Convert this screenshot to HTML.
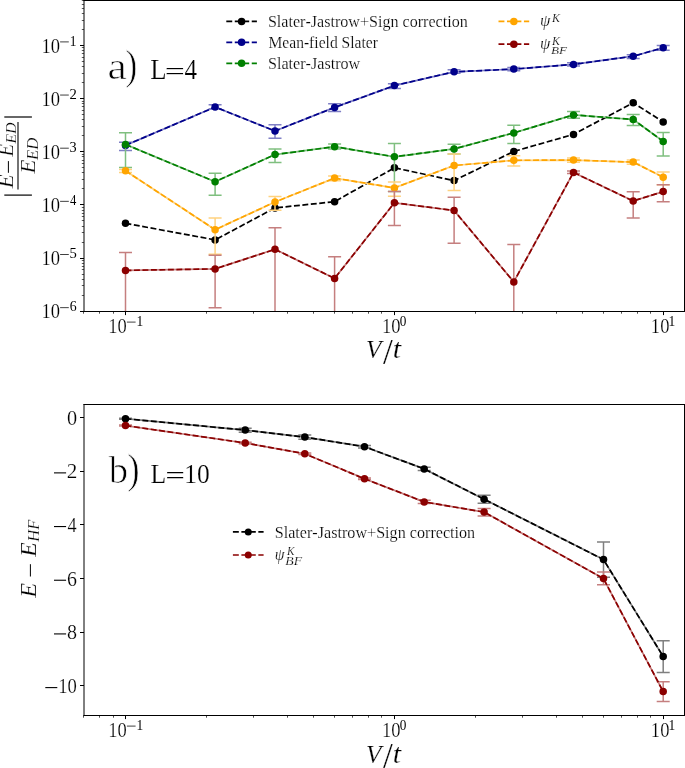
<!DOCTYPE html><html><head><meta charset="utf-8"><style>html,body{margin:0;padding:0;background:#fff;overflow:hidden}svg{display:block;will-change:transform}svg text{font-family:"Liberation Serif",serif;font-kerning:none;font-variant-ligatures:none;}</style></head><body><svg width="685" height="768" viewBox="0 0 685 768">
<rect width="685" height="768" fill="#fff"/>
<defs><clipPath id="ca"><rect x="84" y="0.5" width="600.5" height="311"/></clipPath><clipPath id="cb"><rect x="84" y="404.5" width="600.5" height="311"/></clipPath></defs>
<g clip-path="url(#ca)">
<polyline points="125.5,223.3 215.1,239.9 275,207.9 334.6,201.7 394.4,167.8 454.1,180.6 513.8,151.4 573.5,134.4 633.2,102.8 663.2,121.9" fill="none" stroke="#000000" stroke-width="1.7" stroke-dasharray="5.92 2.56"/>
<circle cx="125.5" cy="223.3" r="3.75" fill="#000000"/>
<circle cx="215.1" cy="239.9" r="3.75" fill="#000000"/>
<circle cx="275" cy="207.9" r="3.75" fill="#000000"/>
<circle cx="334.6" cy="201.7" r="3.75" fill="#000000"/>
<circle cx="394.4" cy="167.8" r="3.75" fill="#000000"/>
<circle cx="454.1" cy="180.6" r="3.75" fill="#000000"/>
<circle cx="513.8" cy="151.4" r="3.75" fill="#000000"/>
<circle cx="573.5" cy="134.4" r="3.75" fill="#000000"/>
<circle cx="633.2" cy="102.8" r="3.75" fill="#000000"/>
<circle cx="663.2" cy="121.9" r="3.75" fill="#000000"/>
</g>
<g clip-path="url(#ca)">
<polyline points="125.5,145.4 215.1,107 275,131 334.6,107.4 394.4,85.6 454.1,71.8 513.8,69.1 573.5,64.4 633.2,56.2 663.2,47.8" fill="none" stroke="#7f7fc5" stroke-width="1.7" stroke-linejoin="round"/>
<line x1="125.5" y1="142.2" x2="125.5" y2="150.4" stroke="#7f7fc5" stroke-width="1.5"/>
<line x1="119" y1="142.2" x2="132" y2="142.2" stroke="#7f7fc5" stroke-width="1.5"/>
<line x1="119" y1="150.4" x2="132" y2="150.4" stroke="#7f7fc5" stroke-width="1.5"/>
<line x1="215.1" y1="104.8" x2="215.1" y2="108.7" stroke="#7f7fc5" stroke-width="1.5"/>
<line x1="208.6" y1="104.8" x2="221.6" y2="104.8" stroke="#7f7fc5" stroke-width="1.5"/>
<line x1="208.6" y1="108.7" x2="221.6" y2="108.7" stroke="#7f7fc5" stroke-width="1.5"/>
<line x1="275" y1="124.8" x2="275" y2="138.2" stroke="#7f7fc5" stroke-width="1.5"/>
<line x1="268.5" y1="124.8" x2="281.5" y2="124.8" stroke="#7f7fc5" stroke-width="1.5"/>
<line x1="268.5" y1="138.2" x2="281.5" y2="138.2" stroke="#7f7fc5" stroke-width="1.5"/>
<line x1="334.6" y1="103.7" x2="334.6" y2="111.5" stroke="#7f7fc5" stroke-width="1.5"/>
<line x1="328.1" y1="103.7" x2="341.1" y2="103.7" stroke="#7f7fc5" stroke-width="1.5"/>
<line x1="328.1" y1="111.5" x2="341.1" y2="111.5" stroke="#7f7fc5" stroke-width="1.5"/>
<line x1="394.4" y1="83.75" x2="394.4" y2="88.4" stroke="#7f7fc5" stroke-width="1.5"/>
<line x1="387.9" y1="83.75" x2="400.9" y2="83.75" stroke="#7f7fc5" stroke-width="1.5"/>
<line x1="387.9" y1="88.4" x2="400.9" y2="88.4" stroke="#7f7fc5" stroke-width="1.5"/>
<line x1="454.1" y1="69.8" x2="454.1" y2="73.2" stroke="#7f7fc5" stroke-width="1.5"/>
<line x1="447.6" y1="69.8" x2="460.6" y2="69.8" stroke="#7f7fc5" stroke-width="1.5"/>
<line x1="447.6" y1="73.2" x2="460.6" y2="73.2" stroke="#7f7fc5" stroke-width="1.5"/>
<line x1="513.8" y1="67.5" x2="513.8" y2="70.7" stroke="#7f7fc5" stroke-width="1.5"/>
<line x1="507.3" y1="67.5" x2="520.3" y2="67.5" stroke="#7f7fc5" stroke-width="1.5"/>
<line x1="507.3" y1="70.7" x2="520.3" y2="70.7" stroke="#7f7fc5" stroke-width="1.5"/>
<line x1="573.5" y1="62.8" x2="573.5" y2="66" stroke="#7f7fc5" stroke-width="1.5"/>
<line x1="567" y1="62.8" x2="580" y2="62.8" stroke="#7f7fc5" stroke-width="1.5"/>
<line x1="567" y1="66" x2="580" y2="66" stroke="#7f7fc5" stroke-width="1.5"/>
<line x1="633.2" y1="54.7" x2="633.2" y2="58.4" stroke="#7f7fc5" stroke-width="1.5"/>
<line x1="626.7" y1="54.7" x2="639.7" y2="54.7" stroke="#7f7fc5" stroke-width="1.5"/>
<line x1="626.7" y1="58.4" x2="639.7" y2="58.4" stroke="#7f7fc5" stroke-width="1.5"/>
<line x1="663.2" y1="45.4" x2="663.2" y2="50.2" stroke="#7f7fc5" stroke-width="1.5"/>
<line x1="656.7" y1="45.4" x2="669.7" y2="45.4" stroke="#7f7fc5" stroke-width="1.5"/>
<line x1="656.7" y1="50.2" x2="669.7" y2="50.2" stroke="#7f7fc5" stroke-width="1.5"/>
<polyline points="125.5,145.4 215.1,107 275,131 334.6,107.4 394.4,85.6 454.1,71.8 513.8,69.1 573.5,64.4 633.2,56.2 663.2,47.8" fill="none" stroke="#00008b" stroke-width="1.7" stroke-dasharray="5.92 2.56"/>
<circle cx="125.5" cy="145.4" r="3.75" fill="#00008b"/>
<circle cx="215.1" cy="107" r="3.75" fill="#00008b"/>
<circle cx="275" cy="131" r="3.75" fill="#00008b"/>
<circle cx="334.6" cy="107.4" r="3.75" fill="#00008b"/>
<circle cx="394.4" cy="85.6" r="3.75" fill="#00008b"/>
<circle cx="454.1" cy="71.8" r="3.75" fill="#00008b"/>
<circle cx="513.8" cy="69.1" r="3.75" fill="#00008b"/>
<circle cx="573.5" cy="64.4" r="3.75" fill="#00008b"/>
<circle cx="633.2" cy="56.2" r="3.75" fill="#00008b"/>
<circle cx="663.2" cy="47.8" r="3.75" fill="#00008b"/>
</g>
<g clip-path="url(#ca)">
<polyline points="125.5,144.4 215.1,181.7 275,154.6 334.6,146.7 394.4,156.8 454.1,148.9 513.8,132.9 573.5,114.9 633.2,119.5 663.2,141.4" fill="none" stroke="#7fbf7f" stroke-width="1.7" stroke-linejoin="round"/>
<line x1="125.5" y1="132.7" x2="125.5" y2="167.6" stroke="#7fbf7f" stroke-width="1.5"/>
<line x1="119" y1="132.7" x2="132" y2="132.7" stroke="#7fbf7f" stroke-width="1.5"/>
<line x1="119" y1="167.6" x2="132" y2="167.6" stroke="#7fbf7f" stroke-width="1.5"/>
<line x1="215.1" y1="173.2" x2="215.1" y2="195.3" stroke="#7fbf7f" stroke-width="1.5"/>
<line x1="208.6" y1="173.2" x2="221.6" y2="173.2" stroke="#7fbf7f" stroke-width="1.5"/>
<line x1="208.6" y1="195.3" x2="221.6" y2="195.3" stroke="#7fbf7f" stroke-width="1.5"/>
<line x1="275" y1="149.1" x2="275" y2="162.4" stroke="#7fbf7f" stroke-width="1.5"/>
<line x1="268.5" y1="149.1" x2="281.5" y2="149.1" stroke="#7fbf7f" stroke-width="1.5"/>
<line x1="268.5" y1="162.4" x2="281.5" y2="162.4" stroke="#7fbf7f" stroke-width="1.5"/>
<line x1="334.6" y1="144.1" x2="334.6" y2="148.9" stroke="#7fbf7f" stroke-width="1.5"/>
<line x1="328.1" y1="144.1" x2="341.1" y2="144.1" stroke="#7fbf7f" stroke-width="1.5"/>
<line x1="328.1" y1="148.9" x2="341.1" y2="148.9" stroke="#7fbf7f" stroke-width="1.5"/>
<line x1="394.4" y1="143.4" x2="394.4" y2="191.6" stroke="#7fbf7f" stroke-width="1.5"/>
<line x1="387.9" y1="143.4" x2="400.9" y2="143.4" stroke="#7fbf7f" stroke-width="1.5"/>
<line x1="387.9" y1="191.6" x2="400.9" y2="191.6" stroke="#7fbf7f" stroke-width="1.5"/>
<line x1="454.1" y1="144.3" x2="454.1" y2="154" stroke="#7fbf7f" stroke-width="1.5"/>
<line x1="447.6" y1="144.3" x2="460.6" y2="144.3" stroke="#7fbf7f" stroke-width="1.5"/>
<line x1="447.6" y1="154" x2="460.6" y2="154" stroke="#7fbf7f" stroke-width="1.5"/>
<line x1="513.8" y1="125.3" x2="513.8" y2="143.4" stroke="#7fbf7f" stroke-width="1.5"/>
<line x1="507.3" y1="125.3" x2="520.3" y2="125.3" stroke="#7fbf7f" stroke-width="1.5"/>
<line x1="507.3" y1="143.4" x2="520.3" y2="143.4" stroke="#7fbf7f" stroke-width="1.5"/>
<line x1="573.5" y1="111.5" x2="573.5" y2="118.3" stroke="#7fbf7f" stroke-width="1.5"/>
<line x1="567" y1="111.5" x2="580" y2="111.5" stroke="#7fbf7f" stroke-width="1.5"/>
<line x1="567" y1="118.3" x2="580" y2="118.3" stroke="#7fbf7f" stroke-width="1.5"/>
<line x1="633.2" y1="114.5" x2="633.2" y2="125.4" stroke="#7fbf7f" stroke-width="1.5"/>
<line x1="626.7" y1="114.5" x2="639.7" y2="114.5" stroke="#7fbf7f" stroke-width="1.5"/>
<line x1="626.7" y1="125.4" x2="639.7" y2="125.4" stroke="#7fbf7f" stroke-width="1.5"/>
<line x1="663.2" y1="132.6" x2="663.2" y2="155.9" stroke="#7fbf7f" stroke-width="1.5"/>
<line x1="656.7" y1="132.6" x2="669.7" y2="132.6" stroke="#7fbf7f" stroke-width="1.5"/>
<line x1="656.7" y1="155.9" x2="669.7" y2="155.9" stroke="#7fbf7f" stroke-width="1.5"/>
<polyline points="125.5,144.4 215.1,181.7 275,154.6 334.6,146.7 394.4,156.8 454.1,148.9 513.8,132.9 573.5,114.9 633.2,119.5 663.2,141.4" fill="none" stroke="#008000" stroke-width="1.7" stroke-dasharray="5.92 2.56"/>
<circle cx="125.5" cy="144.4" r="3.75" fill="#008000"/>
<circle cx="215.1" cy="181.7" r="3.75" fill="#008000"/>
<circle cx="275" cy="154.6" r="3.75" fill="#008000"/>
<circle cx="334.6" cy="146.7" r="3.75" fill="#008000"/>
<circle cx="394.4" cy="156.8" r="3.75" fill="#008000"/>
<circle cx="454.1" cy="148.9" r="3.75" fill="#008000"/>
<circle cx="513.8" cy="132.9" r="3.75" fill="#008000"/>
<circle cx="573.5" cy="114.9" r="3.75" fill="#008000"/>
<circle cx="633.2" cy="119.5" r="3.75" fill="#008000"/>
<circle cx="663.2" cy="141.4" r="3.75" fill="#008000"/>
</g>
<g clip-path="url(#ca)">
<polyline points="125.5,170.8 215.1,229.7 275,202 334.6,178.1 394.4,187.9 454.1,165.5 513.8,160.3 573.5,160.1 633.2,162.1 663.2,177.2" fill="none" stroke="#ffd27f" stroke-width="1.7" stroke-linejoin="round"/>
<line x1="125.5" y1="169.4" x2="125.5" y2="172.4" stroke="#ffd27f" stroke-width="1.5"/>
<line x1="119" y1="169.4" x2="132" y2="169.4" stroke="#ffd27f" stroke-width="1.5"/>
<line x1="119" y1="172.4" x2="132" y2="172.4" stroke="#ffd27f" stroke-width="1.5"/>
<line x1="215.1" y1="218" x2="215.1" y2="254.3" stroke="#ffd27f" stroke-width="1.5"/>
<line x1="208.6" y1="218" x2="221.6" y2="218" stroke="#ffd27f" stroke-width="1.5"/>
<line x1="208.6" y1="254.3" x2="221.6" y2="254.3" stroke="#ffd27f" stroke-width="1.5"/>
<line x1="275" y1="196.5" x2="275" y2="210.2" stroke="#ffd27f" stroke-width="1.5"/>
<line x1="268.5" y1="196.5" x2="281.5" y2="196.5" stroke="#ffd27f" stroke-width="1.5"/>
<line x1="268.5" y1="210.2" x2="281.5" y2="210.2" stroke="#ffd27f" stroke-width="1.5"/>
<line x1="334.6" y1="175.9" x2="334.6" y2="180.7" stroke="#ffd27f" stroke-width="1.5"/>
<line x1="328.1" y1="175.9" x2="341.1" y2="175.9" stroke="#ffd27f" stroke-width="1.5"/>
<line x1="328.1" y1="180.7" x2="341.1" y2="180.7" stroke="#ffd27f" stroke-width="1.5"/>
<line x1="394.4" y1="181.9" x2="394.4" y2="196.3" stroke="#ffd27f" stroke-width="1.5"/>
<line x1="387.9" y1="181.9" x2="400.9" y2="181.9" stroke="#ffd27f" stroke-width="1.5"/>
<line x1="387.9" y1="196.3" x2="400.9" y2="196.3" stroke="#ffd27f" stroke-width="1.5"/>
<line x1="454.1" y1="154" x2="454.1" y2="190.5" stroke="#ffd27f" stroke-width="1.5"/>
<line x1="447.6" y1="154" x2="460.6" y2="154" stroke="#ffd27f" stroke-width="1.5"/>
<line x1="447.6" y1="190.5" x2="460.6" y2="190.5" stroke="#ffd27f" stroke-width="1.5"/>
<line x1="513.8" y1="155.8" x2="513.8" y2="165.9" stroke="#ffd27f" stroke-width="1.5"/>
<line x1="507.3" y1="155.8" x2="520.3" y2="155.8" stroke="#ffd27f" stroke-width="1.5"/>
<line x1="507.3" y1="165.9" x2="520.3" y2="165.9" stroke="#ffd27f" stroke-width="1.5"/>
<line x1="573.5" y1="158" x2="573.5" y2="162.3" stroke="#ffd27f" stroke-width="1.5"/>
<line x1="567" y1="158" x2="580" y2="158" stroke="#ffd27f" stroke-width="1.5"/>
<line x1="567" y1="162.3" x2="580" y2="162.3" stroke="#ffd27f" stroke-width="1.5"/>
<line x1="633.2" y1="160" x2="633.2" y2="164.3" stroke="#ffd27f" stroke-width="1.5"/>
<line x1="626.7" y1="160" x2="639.7" y2="160" stroke="#ffd27f" stroke-width="1.5"/>
<line x1="626.7" y1="164.3" x2="639.7" y2="164.3" stroke="#ffd27f" stroke-width="1.5"/>
<line x1="663.2" y1="171.9" x2="663.2" y2="184.8" stroke="#ffd27f" stroke-width="1.5"/>
<line x1="656.7" y1="171.9" x2="669.7" y2="171.9" stroke="#ffd27f" stroke-width="1.5"/>
<line x1="656.7" y1="184.8" x2="669.7" y2="184.8" stroke="#ffd27f" stroke-width="1.5"/>
<polyline points="125.5,170.8 215.1,229.7 275,202 334.6,178.1 394.4,187.9 454.1,165.5 513.8,160.3 573.5,160.1 633.2,162.1 663.2,177.2" fill="none" stroke="#ffa500" stroke-width="1.7" stroke-dasharray="5.92 2.56"/>
<circle cx="125.5" cy="170.8" r="3.75" fill="#ffa500"/>
<circle cx="215.1" cy="229.7" r="3.75" fill="#ffa500"/>
<circle cx="275" cy="202" r="3.75" fill="#ffa500"/>
<circle cx="334.6" cy="178.1" r="3.75" fill="#ffa500"/>
<circle cx="394.4" cy="187.9" r="3.75" fill="#ffa500"/>
<circle cx="454.1" cy="165.5" r="3.75" fill="#ffa500"/>
<circle cx="513.8" cy="160.3" r="3.75" fill="#ffa500"/>
<circle cx="573.5" cy="160.1" r="3.75" fill="#ffa500"/>
<circle cx="633.2" cy="162.1" r="3.75" fill="#ffa500"/>
<circle cx="663.2" cy="177.2" r="3.75" fill="#ffa500"/>
</g>
<g clip-path="url(#ca)">
<polyline points="125.5,270.4 215.1,268.9 275,249.3 334.6,278.4 394.4,202.8 454.1,210.5 513.8,281.9 573.5,172.4 633.2,201 663.2,191.6" fill="none" stroke="#c57f7f" stroke-width="1.7" stroke-linejoin="round"/>
<line x1="125.5" y1="252.5" x2="125.5" y2="340" stroke="#c57f7f" stroke-width="1.5"/>
<line x1="119" y1="252.5" x2="132" y2="252.5" stroke="#c57f7f" stroke-width="1.5"/>
<line x1="119" y1="340" x2="132" y2="340" stroke="#c57f7f" stroke-width="1.5"/>
<line x1="215.1" y1="255.2" x2="215.1" y2="307.7" stroke="#c57f7f" stroke-width="1.5"/>
<line x1="208.6" y1="255.2" x2="221.6" y2="255.2" stroke="#c57f7f" stroke-width="1.5"/>
<line x1="208.6" y1="307.7" x2="221.6" y2="307.7" stroke="#c57f7f" stroke-width="1.5"/>
<line x1="275" y1="227.7" x2="275" y2="340" stroke="#c57f7f" stroke-width="1.5"/>
<line x1="268.5" y1="227.7" x2="281.5" y2="227.7" stroke="#c57f7f" stroke-width="1.5"/>
<line x1="268.5" y1="340" x2="281.5" y2="340" stroke="#c57f7f" stroke-width="1.5"/>
<line x1="334.6" y1="256.7" x2="334.6" y2="340" stroke="#c57f7f" stroke-width="1.5"/>
<line x1="328.1" y1="256.7" x2="341.1" y2="256.7" stroke="#c57f7f" stroke-width="1.5"/>
<line x1="328.1" y1="340" x2="341.1" y2="340" stroke="#c57f7f" stroke-width="1.5"/>
<line x1="394.4" y1="191.6" x2="394.4" y2="225.5" stroke="#c57f7f" stroke-width="1.5"/>
<line x1="387.9" y1="191.6" x2="400.9" y2="191.6" stroke="#c57f7f" stroke-width="1.5"/>
<line x1="387.9" y1="225.5" x2="400.9" y2="225.5" stroke="#c57f7f" stroke-width="1.5"/>
<line x1="454.1" y1="197.3" x2="454.1" y2="243.2" stroke="#c57f7f" stroke-width="1.5"/>
<line x1="447.6" y1="197.3" x2="460.6" y2="197.3" stroke="#c57f7f" stroke-width="1.5"/>
<line x1="447.6" y1="243.2" x2="460.6" y2="243.2" stroke="#c57f7f" stroke-width="1.5"/>
<line x1="513.8" y1="244.6" x2="513.8" y2="340" stroke="#c57f7f" stroke-width="1.5"/>
<line x1="507.3" y1="244.6" x2="520.3" y2="244.6" stroke="#c57f7f" stroke-width="1.5"/>
<line x1="507.3" y1="340" x2="520.3" y2="340" stroke="#c57f7f" stroke-width="1.5"/>
<line x1="573.5" y1="171" x2="573.5" y2="173.6" stroke="#c57f7f" stroke-width="1.5"/>
<line x1="567" y1="171" x2="580" y2="171" stroke="#c57f7f" stroke-width="1.5"/>
<line x1="567" y1="173.6" x2="580" y2="173.6" stroke="#c57f7f" stroke-width="1.5"/>
<line x1="633.2" y1="191.7" x2="633.2" y2="217.9" stroke="#c57f7f" stroke-width="1.5"/>
<line x1="626.7" y1="191.7" x2="639.7" y2="191.7" stroke="#c57f7f" stroke-width="1.5"/>
<line x1="626.7" y1="217.9" x2="639.7" y2="217.9" stroke="#c57f7f" stroke-width="1.5"/>
<line x1="663.2" y1="184.8" x2="663.2" y2="201.8" stroke="#c57f7f" stroke-width="1.5"/>
<line x1="656.7" y1="184.8" x2="669.7" y2="184.8" stroke="#c57f7f" stroke-width="1.5"/>
<line x1="656.7" y1="201.8" x2="669.7" y2="201.8" stroke="#c57f7f" stroke-width="1.5"/>
<polyline points="125.5,270.4 215.1,268.9 275,249.3 334.6,278.4 394.4,202.8 454.1,210.5 513.8,281.9 573.5,172.4 633.2,201 663.2,191.6" fill="none" stroke="#8b0000" stroke-width="1.7" stroke-dasharray="5.92 2.56"/>
<circle cx="125.5" cy="270.4" r="3.75" fill="#8b0000"/>
<circle cx="215.1" cy="268.9" r="3.75" fill="#8b0000"/>
<circle cx="275" cy="249.3" r="3.75" fill="#8b0000"/>
<circle cx="334.6" cy="278.4" r="3.75" fill="#8b0000"/>
<circle cx="394.4" cy="202.8" r="3.75" fill="#8b0000"/>
<circle cx="454.1" cy="210.5" r="3.75" fill="#8b0000"/>
<circle cx="513.8" cy="281.9" r="3.75" fill="#8b0000"/>
<circle cx="573.5" cy="172.4" r="3.75" fill="#8b0000"/>
<circle cx="633.2" cy="201" r="3.75" fill="#8b0000"/>
<circle cx="663.2" cy="191.6" r="3.75" fill="#8b0000"/>
</g>
<line x1="84.0" y1="0.0" x2="84.0" y2="312.0" stroke="#000" stroke-width="1"/>
<line x1="684.5" y1="0.0" x2="684.5" y2="312.0" stroke="#000" stroke-width="1"/>
<line x1="83.5" y1="0.5" x2="685.0" y2="0.5" stroke="#000" stroke-width="1"/>
<line x1="83.5" y1="311.5" x2="685.0" y2="311.5" stroke="#000" stroke-width="1"/>
<line x1="80" y1="45.5" x2="84" y2="45.5" stroke="#000" stroke-width="1.0"/>
<text transform="matrix(0.927 0 0 1.03 41.471 52.599)" font-size="20" fill="#000" stroke="#fff" stroke-width="0.2" vector-effect="non-scaling-stroke">10</text>
<line x1="60.1" y1="41.9" x2="68.8" y2="41.9" stroke="#000" stroke-width="0.75"/>
<text transform="matrix(0.668 0 0 0.704 69.677 45.6)" font-size="20" fill="#000">1</text>
<line x1="80" y1="98.5" x2="84" y2="98.5" stroke="#000" stroke-width="1.0"/>
<text transform="matrix(0.927 0 0 1.03 41.471 105.749)" font-size="20" fill="#000" stroke="#fff" stroke-width="0.2" vector-effect="non-scaling-stroke">10</text>
<line x1="60.1" y1="95.05" x2="68.8" y2="95.05" stroke="#000" stroke-width="0.75"/>
<text transform="matrix(0.736 0 0 0.702 69.603 98.75)" font-size="20" fill="#000">2</text>
<line x1="80" y1="151.5" x2="84" y2="151.5" stroke="#000" stroke-width="1.0"/>
<text transform="matrix(0.927 0 0 1.03 41.471 158.899)" font-size="20" fill="#000" stroke="#fff" stroke-width="0.2" vector-effect="non-scaling-stroke">10</text>
<line x1="60.1" y1="148.2" x2="68.8" y2="148.2" stroke="#000" stroke-width="0.75"/>
<text transform="matrix(0.714 0 0 0.692 69.567 151.765)" font-size="20" fill="#000">3</text>
<line x1="80" y1="204.5" x2="84" y2="204.5" stroke="#000" stroke-width="1.0"/>
<text transform="matrix(0.927 0 0 1.03 41.471 212.049)" font-size="20" fill="#000" stroke="#fff" stroke-width="0.2" vector-effect="non-scaling-stroke">10</text>
<line x1="60.1" y1="201.35" x2="68.8" y2="201.35" stroke="#000" stroke-width="0.75"/>
<text transform="matrix(0.635 0 0 0.706 70.002 205.05)" font-size="20" fill="#000">4</text>
<line x1="80" y1="258.5" x2="84" y2="258.5" stroke="#000" stroke-width="1.0"/>
<text transform="matrix(0.927 0 0 1.03 41.471 265.199)" font-size="20" fill="#000" stroke="#fff" stroke-width="0.2" vector-effect="non-scaling-stroke">10</text>
<line x1="60.1" y1="254.5" x2="68.8" y2="254.5" stroke="#000" stroke-width="0.75"/>
<text transform="matrix(0.732 0 0 0.7 69.399 258.063)" font-size="20" fill="#000">5</text>
<line x1="80" y1="311.5" x2="84" y2="311.5" stroke="#000" stroke-width="1.0"/>
<text transform="matrix(0.927 0 0 1.03 41.471 318.349)" font-size="20" fill="#000" stroke="#fff" stroke-width="0.2" vector-effect="non-scaling-stroke">10</text>
<line x1="60.1" y1="307.65" x2="68.8" y2="307.65" stroke="#000" stroke-width="0.75"/>
<text transform="matrix(0.69 0 0 0.692 69.657 311.215)" font-size="20" fill="#000">6</text>
<line x1="81.8" y1="295.5" x2="84" y2="295.5" stroke="#000" stroke-width="0.65"/>
<line x1="81.8" y1="285.5" x2="84" y2="285.5" stroke="#000" stroke-width="0.65"/>
<line x1="81.8" y1="279.5" x2="84" y2="279.5" stroke="#000" stroke-width="0.65"/>
<line x1="81.8" y1="274.5" x2="84" y2="274.5" stroke="#000" stroke-width="0.65"/>
<line x1="81.8" y1="269.5" x2="84" y2="269.5" stroke="#000" stroke-width="0.65"/>
<line x1="81.8" y1="266.5" x2="84" y2="266.5" stroke="#000" stroke-width="0.65"/>
<line x1="81.8" y1="263.5" x2="84" y2="263.5" stroke="#000" stroke-width="0.65"/>
<line x1="81.8" y1="260.5" x2="84" y2="260.5" stroke="#000" stroke-width="0.65"/>
<line x1="81.8" y1="242.5" x2="84" y2="242.5" stroke="#000" stroke-width="0.65"/>
<line x1="81.8" y1="232.5" x2="84" y2="232.5" stroke="#000" stroke-width="0.65"/>
<line x1="81.8" y1="226.5" x2="84" y2="226.5" stroke="#000" stroke-width="0.65"/>
<line x1="81.8" y1="220.5" x2="84" y2="220.5" stroke="#000" stroke-width="0.65"/>
<line x1="81.8" y1="216.5" x2="84" y2="216.5" stroke="#000" stroke-width="0.65"/>
<line x1="81.8" y1="213.5" x2="84" y2="213.5" stroke="#000" stroke-width="0.65"/>
<line x1="81.8" y1="210.5" x2="84" y2="210.5" stroke="#000" stroke-width="0.65"/>
<line x1="81.8" y1="207.5" x2="84" y2="207.5" stroke="#000" stroke-width="0.65"/>
<line x1="81.8" y1="188.5" x2="84" y2="188.5" stroke="#000" stroke-width="0.65"/>
<line x1="81.8" y1="179.5" x2="84" y2="179.5" stroke="#000" stroke-width="0.65"/>
<line x1="81.8" y1="172.5" x2="84" y2="172.5" stroke="#000" stroke-width="0.65"/>
<line x1="81.8" y1="167.5" x2="84" y2="167.5" stroke="#000" stroke-width="0.65"/>
<line x1="81.8" y1="163.5" x2="84" y2="163.5" stroke="#000" stroke-width="0.65"/>
<line x1="81.8" y1="160.5" x2="84" y2="160.5" stroke="#000" stroke-width="0.65"/>
<line x1="81.8" y1="156.5" x2="84" y2="156.5" stroke="#000" stroke-width="0.65"/>
<line x1="81.8" y1="154.5" x2="84" y2="154.5" stroke="#000" stroke-width="0.65"/>
<line x1="81.8" y1="135.5" x2="84" y2="135.5" stroke="#000" stroke-width="0.65"/>
<line x1="81.8" y1="126.5" x2="84" y2="126.5" stroke="#000" stroke-width="0.65"/>
<line x1="81.8" y1="119.5" x2="84" y2="119.5" stroke="#000" stroke-width="0.65"/>
<line x1="81.8" y1="114.5" x2="84" y2="114.5" stroke="#000" stroke-width="0.65"/>
<line x1="81.8" y1="110.5" x2="84" y2="110.5" stroke="#000" stroke-width="0.65"/>
<line x1="81.8" y1="106.5" x2="84" y2="106.5" stroke="#000" stroke-width="0.65"/>
<line x1="81.8" y1="103.5" x2="84" y2="103.5" stroke="#000" stroke-width="0.65"/>
<line x1="81.8" y1="101.5" x2="84" y2="101.5" stroke="#000" stroke-width="0.65"/>
<line x1="81.8" y1="82.5" x2="84" y2="82.5" stroke="#000" stroke-width="0.65"/>
<line x1="81.8" y1="73.5" x2="84" y2="73.5" stroke="#000" stroke-width="0.65"/>
<line x1="81.8" y1="66.5" x2="84" y2="66.5" stroke="#000" stroke-width="0.65"/>
<line x1="81.8" y1="61.5" x2="84" y2="61.5" stroke="#000" stroke-width="0.65"/>
<line x1="81.8" y1="57.5" x2="84" y2="57.5" stroke="#000" stroke-width="0.65"/>
<line x1="81.8" y1="53.5" x2="84" y2="53.5" stroke="#000" stroke-width="0.65"/>
<line x1="81.8" y1="50.5" x2="84" y2="50.5" stroke="#000" stroke-width="0.65"/>
<line x1="81.8" y1="47.5" x2="84" y2="47.5" stroke="#000" stroke-width="0.65"/>
<line x1="81.8" y1="29.5" x2="84" y2="29.5" stroke="#000" stroke-width="0.65"/>
<line x1="81.8" y1="20.5" x2="84" y2="20.5" stroke="#000" stroke-width="0.65"/>
<line x1="81.8" y1="13.5" x2="84" y2="13.5" stroke="#000" stroke-width="0.65"/>
<line x1="81.8" y1="8.5" x2="84" y2="8.5" stroke="#000" stroke-width="0.65"/>
<line x1="81.8" y1="4.5" x2="84" y2="4.5" stroke="#000" stroke-width="0.65"/>
<line x1="81.8" y1="0.5" x2="84" y2="0.5" stroke="#000" stroke-width="0.65"/>
<line x1="125.5" y1="311.5" x2="125.5" y2="315.1" stroke="#000" stroke-width="1.0"/>
<line x1="394.5" y1="311.5" x2="394.5" y2="315.1" stroke="#000" stroke-width="1.0"/>
<line x1="663.5" y1="311.5" x2="663.5" y2="315.1" stroke="#000" stroke-width="1.0"/>
<line x1="83.5" y1="311.5" x2="83.5" y2="313.7" stroke="#000" stroke-width="0.7"/>
<line x1="99.5" y1="311.5" x2="99.5" y2="313.7" stroke="#000" stroke-width="0.7"/>
<line x1="113.5" y1="311.5" x2="113.5" y2="313.7" stroke="#000" stroke-width="0.7"/>
<line x1="206.5" y1="311.5" x2="206.5" y2="313.7" stroke="#000" stroke-width="0.7"/>
<line x1="253.5" y1="311.5" x2="253.5" y2="313.7" stroke="#000" stroke-width="0.7"/>
<line x1="287.5" y1="311.5" x2="287.5" y2="313.7" stroke="#000" stroke-width="0.7"/>
<line x1="313.5" y1="311.5" x2="313.5" y2="313.7" stroke="#000" stroke-width="0.7"/>
<line x1="334.5" y1="311.5" x2="334.5" y2="313.7" stroke="#000" stroke-width="0.7"/>
<line x1="352.5" y1="311.5" x2="352.5" y2="313.7" stroke="#000" stroke-width="0.7"/>
<line x1="368.5" y1="311.5" x2="368.5" y2="313.7" stroke="#000" stroke-width="0.7"/>
<line x1="381.5" y1="311.5" x2="381.5" y2="313.7" stroke="#000" stroke-width="0.7"/>
<line x1="475.5" y1="311.5" x2="475.5" y2="313.7" stroke="#000" stroke-width="0.7"/>
<line x1="522.5" y1="311.5" x2="522.5" y2="313.7" stroke="#000" stroke-width="0.7"/>
<line x1="556.5" y1="311.5" x2="556.5" y2="313.7" stroke="#000" stroke-width="0.7"/>
<line x1="582.5" y1="311.5" x2="582.5" y2="313.7" stroke="#000" stroke-width="0.7"/>
<line x1="603.5" y1="311.5" x2="603.5" y2="313.7" stroke="#000" stroke-width="0.7"/>
<line x1="621.5" y1="311.5" x2="621.5" y2="313.7" stroke="#000" stroke-width="0.7"/>
<line x1="637.5" y1="311.5" x2="637.5" y2="313.7" stroke="#000" stroke-width="0.7"/>
<line x1="650.5" y1="311.5" x2="650.5" y2="313.7" stroke="#000" stroke-width="0.7"/>
<text transform="matrix(0.927 0 0 1.03 108.271 332.799)" font-size="20" fill="#000" stroke="#fff" stroke-width="0.2" vector-effect="non-scaling-stroke">10</text>
<line x1="126.9" y1="322.1" x2="135.6" y2="322.1" stroke="#000" stroke-width="0.75"/>
<text transform="matrix(0.668 0 0 0.704 136.477 325.8)" font-size="20" fill="#000">1</text>
<text transform="matrix(0.927 0 0 1.03 382.071 332.799)" font-size="20" fill="#000" stroke="#fff" stroke-width="0.2" vector-effect="non-scaling-stroke">10</text>
<text transform="matrix(0.661 0 0 0.689 399.797 325.665)" font-size="20" fill="#000">0</text>
<text transform="matrix(0.927 0 0 1.03 650.871 332.799)" font-size="20" fill="#000" stroke="#fff" stroke-width="0.2" vector-effect="non-scaling-stroke">10</text>
<text transform="matrix(0.668 0 0 0.704 668.377 325.8)" font-size="20" fill="#000">1</text>
<text transform="matrix(1.26 0 0 1.269 366.083 358.316)" font-size="20" font-style="italic" fill="#000" stroke="#fff" stroke-width="0.2" vector-effect="non-scaling-stroke">V</text>
<text transform="matrix(1.764 0 0 1.786 383.1 363.651)" font-size="20" fill="#000" stroke="#fff" stroke-width="0.2" vector-effect="non-scaling-stroke">/</text>
<text transform="matrix(1.497 0 0 1.379 392.685 358.331)" font-size="20" font-style="italic" fill="#000" stroke="#fff" stroke-width="0.2" vector-effect="non-scaling-stroke">t</text>
<line x1="4.3" y1="117" x2="31.9" y2="117" stroke="#000" stroke-width="1.2"/>
<line x1="4.3" y1="195.1" x2="31.9" y2="195.1" stroke="#000" stroke-width="1.2"/>
<line x1="18" y1="122.1" x2="18" y2="189.6" stroke="#000" stroke-width="1.1"/>
<text transform="matrix(0 -1.138 1.061 0 13.4 188.233)" font-size="20" font-style="italic" fill="#000" stroke="#fff" stroke-width="0.2" vector-effect="non-scaling-stroke">E</text>
<line x1="8.4" y1="161.1" x2="8.4" y2="172.8" stroke="#000" stroke-width="1.0"/>
<text transform="matrix(0 -1.031 1.061 0 13.4 156.458)" font-size="20" font-style="italic" fill="#000" stroke="#fff" stroke-width="0.2" vector-effect="non-scaling-stroke">E</text>
<text transform="matrix(0 -0.786 0.761 0 16.47 143.416)" font-size="20" font-style="italic" fill="#000" stroke="#fff" stroke-width="0.2" vector-effect="non-scaling-stroke">ED</text>
<text transform="matrix(0 -1.146 1.061 0 34.9 173.431)" font-size="20" font-style="italic" fill="#000" stroke="#fff" stroke-width="0.2" vector-effect="non-scaling-stroke">E</text>
<text transform="matrix(0 -0.831 0.837 0 38.367 159.905)" font-size="20" font-style="italic" fill="#000" stroke="#fff" stroke-width="0.2" vector-effect="non-scaling-stroke">ED</text>
<text transform="matrix(2.177 0 0 1.9 107.519 78.779)" font-size="20" fill="#000" stroke="#fff" stroke-width="0.7" vector-effect="non-scaling-stroke">a</text>
<text transform="matrix(1.82 0 0 2.134 125.227 79.164)" font-size="20" fill="#000" stroke="#fff" stroke-width="0.7" vector-effect="non-scaling-stroke">)</text>
<text transform="matrix(1.341 0 0 1.42 150.227 78.6)" font-size="20" fill="#000" stroke="#fff" stroke-width="0.2" vector-effect="non-scaling-stroke">L</text>
<text transform="matrix(1.784 0 0 1.16 164.823 79.303)" font-size="20" fill="#000" stroke="#fff" stroke-width="0.2" vector-effect="non-scaling-stroke">=</text>
<text transform="matrix(1.258 0 0 1.428 184.408 78.6)" font-size="20" fill="#000" stroke="#fff" stroke-width="0.2" vector-effect="non-scaling-stroke">4</text>
<text transform="matrix(0.805 0 0 0.815 267.923 26.7)" font-size="20" fill="#000" stroke="#fff" stroke-width="0.2" vector-effect="non-scaling-stroke">Slater-Jastrow+Sign correction</text>
<text transform="matrix(0.78 0 0 0.815 268.451 47.7)" font-size="20" fill="#000" stroke="#fff" stroke-width="0.2" vector-effect="non-scaling-stroke">Mean-field Slater</text>
<text transform="matrix(0.807 0 0 0.815 267.92 68.7)" font-size="20" fill="#000" stroke="#fff" stroke-width="0.2" vector-effect="non-scaling-stroke">Slater-Jastrow</text>
<line x1="226.3" y1="21.4" x2="256.9" y2="21.4" stroke="#000000" stroke-width="1.7" stroke-dasharray="5.92 2.56"/>
<circle cx="241.6" cy="21.4" r="3.75" fill="#000000"/>
<line x1="226.3" y1="42.3" x2="256.9" y2="42.3" stroke="#00008b" stroke-width="1.7" stroke-dasharray="5.92 2.56"/>
<circle cx="241.6" cy="42.3" r="3.75" fill="#00008b"/>
<line x1="226.3" y1="63.3" x2="256.9" y2="63.3" stroke="#008000" stroke-width="1.7" stroke-dasharray="5.92 2.56"/>
<circle cx="241.6" cy="63.3" r="3.75" fill="#008000"/>
<line x1="498.5" y1="21.4" x2="529.2" y2="21.4" stroke="#ffa500" stroke-width="1.7" stroke-dasharray="5.92 2.56"/>
<circle cx="513.85" cy="21.4" r="3.75" fill="#ffa500"/>
<line x1="498.5" y1="44.2" x2="529.2" y2="44.2" stroke="#8b0000" stroke-width="1.7" stroke-dasharray="5.92 2.56"/>
<circle cx="513.85" cy="44.2" r="3.75" fill="#8b0000"/>
<text transform="matrix(0.834 0 0 0.835 539.907 26.145)" font-size="20" font-style="italic" fill="#000" stroke="#fff" stroke-width="0.2" vector-effect="non-scaling-stroke">ψ</text>
<text transform="matrix(0.596 0 0 0.603 551.94 21.8)" font-size="20" font-style="italic" fill="#000" stroke="#fff" stroke-width="0.2" vector-effect="non-scaling-stroke">K</text>
<text transform="matrix(0.834 0 0 0.835 539.907 49.145)" font-size="20" font-style="italic" fill="#000" stroke="#fff" stroke-width="0.2" vector-effect="non-scaling-stroke">ψ</text>
<text transform="matrix(0.596 0 0 0.603 551.94 44.8)" font-size="20" font-style="italic" fill="#000" stroke="#fff" stroke-width="0.2" vector-effect="non-scaling-stroke">K</text>
<text transform="matrix(0.659 0 0 0.563 550.878 53.667)" font-size="20" font-style="italic" fill="#000" stroke="#fff" stroke-width="0.2" vector-effect="non-scaling-stroke">BF</text>
<g clip-path="url(#cb)">
<polyline points="125.5,418.7 245.2,430.1 304.8,437.1 364.5,446.7 424.2,468.9 484.1,499.2 603.5,559.6 663.2,656.5" fill="none" stroke="#7f7f7f" stroke-width="1.7" stroke-linejoin="round"/>
<line x1="125.5" y1="418.2" x2="125.5" y2="419.2" stroke="#7f7f7f" stroke-width="1.5"/>
<line x1="119" y1="418.2" x2="132" y2="418.2" stroke="#7f7f7f" stroke-width="1.5"/>
<line x1="119" y1="419.2" x2="132" y2="419.2" stroke="#7f7f7f" stroke-width="1.5"/>
<line x1="245.2" y1="428.2" x2="245.2" y2="432.2" stroke="#7f7f7f" stroke-width="1.5"/>
<line x1="238.7" y1="428.2" x2="251.7" y2="428.2" stroke="#7f7f7f" stroke-width="1.5"/>
<line x1="238.7" y1="432.2" x2="251.7" y2="432.2" stroke="#7f7f7f" stroke-width="1.5"/>
<line x1="304.8" y1="434.9" x2="304.8" y2="439.3" stroke="#7f7f7f" stroke-width="1.5"/>
<line x1="298.3" y1="434.9" x2="311.3" y2="434.9" stroke="#7f7f7f" stroke-width="1.5"/>
<line x1="298.3" y1="439.3" x2="311.3" y2="439.3" stroke="#7f7f7f" stroke-width="1.5"/>
<line x1="364.5" y1="445.5" x2="364.5" y2="448" stroke="#7f7f7f" stroke-width="1.5"/>
<line x1="358" y1="445.5" x2="371" y2="445.5" stroke="#7f7f7f" stroke-width="1.5"/>
<line x1="358" y1="448" x2="371" y2="448" stroke="#7f7f7f" stroke-width="1.5"/>
<line x1="424.2" y1="467.3" x2="424.2" y2="470.5" stroke="#7f7f7f" stroke-width="1.5"/>
<line x1="417.7" y1="467.3" x2="430.7" y2="467.3" stroke="#7f7f7f" stroke-width="1.5"/>
<line x1="417.7" y1="470.5" x2="430.7" y2="470.5" stroke="#7f7f7f" stroke-width="1.5"/>
<line x1="484.1" y1="495.3" x2="484.1" y2="503.3" stroke="#7f7f7f" stroke-width="1.5"/>
<line x1="477.6" y1="495.3" x2="490.6" y2="495.3" stroke="#7f7f7f" stroke-width="1.5"/>
<line x1="477.6" y1="503.3" x2="490.6" y2="503.3" stroke="#7f7f7f" stroke-width="1.5"/>
<line x1="603.5" y1="542.1" x2="603.5" y2="577.2" stroke="#7f7f7f" stroke-width="1.5"/>
<line x1="597" y1="542.1" x2="610" y2="542.1" stroke="#7f7f7f" stroke-width="1.5"/>
<line x1="597" y1="577.2" x2="610" y2="577.2" stroke="#7f7f7f" stroke-width="1.5"/>
<line x1="663.2" y1="640.7" x2="663.2" y2="672.6" stroke="#7f7f7f" stroke-width="1.5"/>
<line x1="656.7" y1="640.7" x2="669.7" y2="640.7" stroke="#7f7f7f" stroke-width="1.5"/>
<line x1="656.7" y1="672.6" x2="669.7" y2="672.6" stroke="#7f7f7f" stroke-width="1.5"/>
<polyline points="125.5,418.7 245.2,430.1 304.8,437.1 364.5,446.7 424.2,468.9 484.1,499.2 603.5,559.6 663.2,656.5" fill="none" stroke="#000000" stroke-width="1.7" stroke-dasharray="5.92 2.56"/>
<circle cx="125.5" cy="418.7" r="3.75" fill="#000000"/>
<circle cx="245.2" cy="430.1" r="3.75" fill="#000000"/>
<circle cx="304.8" cy="437.1" r="3.75" fill="#000000"/>
<circle cx="364.5" cy="446.7" r="3.75" fill="#000000"/>
<circle cx="424.2" cy="468.9" r="3.75" fill="#000000"/>
<circle cx="484.1" cy="499.2" r="3.75" fill="#000000"/>
<circle cx="603.5" cy="559.6" r="3.75" fill="#000000"/>
<circle cx="663.2" cy="656.5" r="3.75" fill="#000000"/>
</g>
<g clip-path="url(#cb)">
<polyline points="125.5,425.55 245.2,443 304.8,453.75 364.5,478.8 424.2,501.9 484.1,512.1 603.5,578.6 663.2,691.6" fill="none" stroke="#c57f7f" stroke-width="1.7" stroke-linejoin="round"/>
<line x1="125.5" y1="425" x2="125.5" y2="426.1" stroke="#c57f7f" stroke-width="1.5"/>
<line x1="119" y1="425" x2="132" y2="425" stroke="#c57f7f" stroke-width="1.5"/>
<line x1="119" y1="426.1" x2="132" y2="426.1" stroke="#c57f7f" stroke-width="1.5"/>
<line x1="245.2" y1="442.3" x2="245.2" y2="443.7" stroke="#c57f7f" stroke-width="1.5"/>
<line x1="238.7" y1="442.3" x2="251.7" y2="442.3" stroke="#c57f7f" stroke-width="1.5"/>
<line x1="238.7" y1="443.7" x2="251.7" y2="443.7" stroke="#c57f7f" stroke-width="1.5"/>
<line x1="304.8" y1="453" x2="304.8" y2="454.5" stroke="#c57f7f" stroke-width="1.5"/>
<line x1="298.3" y1="453" x2="311.3" y2="453" stroke="#c57f7f" stroke-width="1.5"/>
<line x1="298.3" y1="454.5" x2="311.3" y2="454.5" stroke="#c57f7f" stroke-width="1.5"/>
<line x1="364.5" y1="478" x2="364.5" y2="479.6" stroke="#c57f7f" stroke-width="1.5"/>
<line x1="358" y1="478" x2="371" y2="478" stroke="#c57f7f" stroke-width="1.5"/>
<line x1="358" y1="479.6" x2="371" y2="479.6" stroke="#c57f7f" stroke-width="1.5"/>
<line x1="424.2" y1="500.3" x2="424.2" y2="503.4" stroke="#c57f7f" stroke-width="1.5"/>
<line x1="417.7" y1="500.3" x2="430.7" y2="500.3" stroke="#c57f7f" stroke-width="1.5"/>
<line x1="417.7" y1="503.4" x2="430.7" y2="503.4" stroke="#c57f7f" stroke-width="1.5"/>
<line x1="484.1" y1="508.4" x2="484.1" y2="516.1" stroke="#c57f7f" stroke-width="1.5"/>
<line x1="477.6" y1="508.4" x2="490.6" y2="508.4" stroke="#c57f7f" stroke-width="1.5"/>
<line x1="477.6" y1="516.1" x2="490.6" y2="516.1" stroke="#c57f7f" stroke-width="1.5"/>
<line x1="603.5" y1="571.9" x2="603.5" y2="584.7" stroke="#c57f7f" stroke-width="1.5"/>
<line x1="597" y1="571.9" x2="610" y2="571.9" stroke="#c57f7f" stroke-width="1.5"/>
<line x1="597" y1="584.7" x2="610" y2="584.7" stroke="#c57f7f" stroke-width="1.5"/>
<line x1="663.2" y1="681.7" x2="663.2" y2="701.5" stroke="#c57f7f" stroke-width="1.5"/>
<line x1="656.7" y1="681.7" x2="669.7" y2="681.7" stroke="#c57f7f" stroke-width="1.5"/>
<line x1="656.7" y1="701.5" x2="669.7" y2="701.5" stroke="#c57f7f" stroke-width="1.5"/>
<polyline points="125.5,425.55 245.2,443 304.8,453.75 364.5,478.8 424.2,501.9 484.1,512.1 603.5,578.6 663.2,691.6" fill="none" stroke="#8b0000" stroke-width="1.7" stroke-dasharray="5.92 2.56"/>
<circle cx="125.5" cy="425.55" r="3.75" fill="#8b0000"/>
<circle cx="245.2" cy="443" r="3.75" fill="#8b0000"/>
<circle cx="304.8" cy="453.75" r="3.75" fill="#8b0000"/>
<circle cx="364.5" cy="478.8" r="3.75" fill="#8b0000"/>
<circle cx="424.2" cy="501.9" r="3.75" fill="#8b0000"/>
<circle cx="484.1" cy="512.1" r="3.75" fill="#8b0000"/>
<circle cx="603.5" cy="578.6" r="3.75" fill="#8b0000"/>
<circle cx="663.2" cy="691.6" r="3.75" fill="#8b0000"/>
</g>
<line x1="84.0" y1="404.0" x2="84.0" y2="716.0" stroke="#000" stroke-width="1"/>
<line x1="684.5" y1="404.0" x2="684.5" y2="716.0" stroke="#000" stroke-width="1"/>
<line x1="83.5" y1="404.5" x2="685.0" y2="404.5" stroke="#000" stroke-width="1"/>
<line x1="83.5" y1="715.5" x2="685.0" y2="715.5" stroke="#000" stroke-width="1"/>
<line x1="80" y1="417.5" x2="84" y2="417.5" stroke="#000" stroke-width="1.0"/>
<text transform="matrix(1.015 0 0 1.03 66.927 424.599)" font-size="20" fill="#000" stroke="#fff" stroke-width="0.2" vector-effect="non-scaling-stroke">0</text>
<line x1="80" y1="471.5" x2="84" y2="471.5" stroke="#000" stroke-width="1.0"/>
<text transform="matrix(1.06 0 0 1.05 66.868 478.48)" font-size="20" fill="#000" stroke="#fff" stroke-width="0.2" vector-effect="non-scaling-stroke">2</text>
<line x1="54" y1="472.88" x2="66.1" y2="472.88" stroke="#000" stroke-width="1.1"/>
<line x1="80" y1="524.5" x2="84" y2="524.5" stroke="#000" stroke-width="1.0"/>
<text transform="matrix(0.914 0 0 1.056 67.443 532.16)" font-size="20" fill="#000" stroke="#fff" stroke-width="0.2" vector-effect="non-scaling-stroke">4</text>
<line x1="54" y1="526.56" x2="66.1" y2="526.56" stroke="#000" stroke-width="1.1"/>
<line x1="80" y1="578.5" x2="84" y2="578.5" stroke="#000" stroke-width="1.0"/>
<text transform="matrix(0.995 0 0 1.034 66.945 585.638)" font-size="20" fill="#000" stroke="#fff" stroke-width="0.2" vector-effect="non-scaling-stroke">6</text>
<line x1="54" y1="580.24" x2="66.1" y2="580.24" stroke="#000" stroke-width="1.1"/>
<line x1="80" y1="632.5" x2="84" y2="632.5" stroke="#000" stroke-width="1.0"/>
<text transform="matrix(1.003 0 0 1.03 67.036 639.319)" font-size="20" fill="#000" stroke="#fff" stroke-width="0.2" vector-effect="non-scaling-stroke">8</text>
<line x1="54" y1="633.92" x2="66.1" y2="633.92" stroke="#000" stroke-width="1.1"/>
<line x1="80" y1="685.5" x2="84" y2="685.5" stroke="#000" stroke-width="1.0"/>
<text transform="matrix(0.932 0 0 1.03 58.161 692.999)" font-size="20" fill="#000" stroke="#fff" stroke-width="0.2" vector-effect="non-scaling-stroke">10</text>
<line x1="45.3" y1="687.6" x2="57.3" y2="687.6" stroke="#000" stroke-width="1.1"/>
<line x1="125.5" y1="715.5" x2="125.5" y2="719.1" stroke="#000" stroke-width="1.0"/>
<line x1="394.5" y1="715.5" x2="394.5" y2="719.1" stroke="#000" stroke-width="1.0"/>
<line x1="663.5" y1="715.5" x2="663.5" y2="719.1" stroke="#000" stroke-width="1.0"/>
<line x1="83.5" y1="715.5" x2="83.5" y2="717.7" stroke="#000" stroke-width="0.7"/>
<line x1="99.5" y1="715.5" x2="99.5" y2="717.7" stroke="#000" stroke-width="0.7"/>
<line x1="113.5" y1="715.5" x2="113.5" y2="717.7" stroke="#000" stroke-width="0.7"/>
<line x1="206.5" y1="715.5" x2="206.5" y2="717.7" stroke="#000" stroke-width="0.7"/>
<line x1="253.5" y1="715.5" x2="253.5" y2="717.7" stroke="#000" stroke-width="0.7"/>
<line x1="287.5" y1="715.5" x2="287.5" y2="717.7" stroke="#000" stroke-width="0.7"/>
<line x1="313.5" y1="715.5" x2="313.5" y2="717.7" stroke="#000" stroke-width="0.7"/>
<line x1="334.5" y1="715.5" x2="334.5" y2="717.7" stroke="#000" stroke-width="0.7"/>
<line x1="352.5" y1="715.5" x2="352.5" y2="717.7" stroke="#000" stroke-width="0.7"/>
<line x1="368.5" y1="715.5" x2="368.5" y2="717.7" stroke="#000" stroke-width="0.7"/>
<line x1="381.5" y1="715.5" x2="381.5" y2="717.7" stroke="#000" stroke-width="0.7"/>
<line x1="475.5" y1="715.5" x2="475.5" y2="717.7" stroke="#000" stroke-width="0.7"/>
<line x1="522.5" y1="715.5" x2="522.5" y2="717.7" stroke="#000" stroke-width="0.7"/>
<line x1="556.5" y1="715.5" x2="556.5" y2="717.7" stroke="#000" stroke-width="0.7"/>
<line x1="582.5" y1="715.5" x2="582.5" y2="717.7" stroke="#000" stroke-width="0.7"/>
<line x1="603.5" y1="715.5" x2="603.5" y2="717.7" stroke="#000" stroke-width="0.7"/>
<line x1="621.5" y1="715.5" x2="621.5" y2="717.7" stroke="#000" stroke-width="0.7"/>
<line x1="637.5" y1="715.5" x2="637.5" y2="717.7" stroke="#000" stroke-width="0.7"/>
<line x1="650.5" y1="715.5" x2="650.5" y2="717.7" stroke="#000" stroke-width="0.7"/>
<text transform="matrix(0.927 0 0 1.03 108.271 736.799)" font-size="20" fill="#000" stroke="#fff" stroke-width="0.2" vector-effect="non-scaling-stroke">10</text>
<line x1="126.9" y1="726.1" x2="135.6" y2="726.1" stroke="#000" stroke-width="0.75"/>
<text transform="matrix(0.668 0 0 0.704 136.477 729.8)" font-size="20" fill="#000">1</text>
<text transform="matrix(0.927 0 0 1.03 382.071 736.799)" font-size="20" fill="#000" stroke="#fff" stroke-width="0.2" vector-effect="non-scaling-stroke">10</text>
<text transform="matrix(0.661 0 0 0.689 399.797 729.665)" font-size="20" fill="#000">0</text>
<text transform="matrix(0.927 0 0 1.03 650.871 736.799)" font-size="20" fill="#000" stroke="#fff" stroke-width="0.2" vector-effect="non-scaling-stroke">10</text>
<text transform="matrix(0.668 0 0 0.704 668.377 729.8)" font-size="20" fill="#000">1</text>
<text transform="matrix(1.26 0 0 1.269 366.083 762.616)" font-size="20" font-style="italic" fill="#000" stroke="#fff" stroke-width="0.2" vector-effect="non-scaling-stroke">V</text>
<text transform="matrix(1.764 0 0 1.786 383.1 767.951)" font-size="20" fill="#000" stroke="#fff" stroke-width="0.2" vector-effect="non-scaling-stroke">/</text>
<text transform="matrix(1.497 0 0 1.379 392.685 762.631)" font-size="20" font-style="italic" fill="#000" stroke="#fff" stroke-width="0.2" vector-effect="non-scaling-stroke">t</text>
<text transform="matrix(0 -1.22 1.138 0 36.3 597.714)" font-size="20" font-style="italic" fill="#000" stroke="#fff" stroke-width="0.2" vector-effect="non-scaling-stroke">E</text>
<line x1="30.4" y1="564.2" x2="30.4" y2="576.5" stroke="#000" stroke-width="1.0"/>
<text transform="matrix(0 -1.179 1.138 0 36.3 556.724)" font-size="20" font-style="italic" fill="#000" stroke="#fff" stroke-width="0.2" vector-effect="non-scaling-stroke">E</text>
<text transform="matrix(0 -0.828 0.794 0 39.1 541.722)" font-size="20" font-style="italic" fill="#000" stroke="#fff" stroke-width="0.2" vector-effect="non-scaling-stroke">HF</text>
<text transform="matrix(1.938 0 0 1.94 108.65 482.671)" font-size="20" fill="#000" stroke="#fff" stroke-width="0.7" vector-effect="non-scaling-stroke">b</text>
<text transform="matrix(1.859 0 0 2.126 127.352 483.049)" font-size="20" fill="#000" stroke="#fff" stroke-width="0.7" vector-effect="non-scaling-stroke">)</text>
<text transform="matrix(1.284 0 0 1.413 150.46 482.7)" font-size="20" fill="#000" stroke="#fff" stroke-width="0.2" vector-effect="non-scaling-stroke">L</text>
<text transform="matrix(1.751 0 0 1.22 165.155 483.652)" font-size="20" fill="#000" stroke="#fff" stroke-width="0.2" vector-effect="non-scaling-stroke">=</text>
<text transform="matrix(1.276 0 0 1.408 184.158 482.725)" font-size="20" fill="#000" stroke="#fff" stroke-width="0.2" vector-effect="non-scaling-stroke">10</text>
<line x1="232.9" y1="531.9" x2="263.6" y2="531.9" stroke="#000000" stroke-width="1.7" stroke-dasharray="5.92 2.56"/>
<circle cx="248.25" cy="531.9" r="3.5" fill="#000000"/>
<text transform="matrix(0.807 0 0 0.815 274.721 537.7)" font-size="20" fill="#000" stroke="#fff" stroke-width="0.2" vector-effect="non-scaling-stroke">Slater-Jastrow+Sign correction</text>
<line x1="232.9" y1="555" x2="263.6" y2="555" stroke="#8b0000" stroke-width="1.7" stroke-dasharray="5.92 2.56"/>
<circle cx="248.25" cy="555" r="3.5" fill="#8b0000"/>
<text transform="matrix(0.782 0 0 0.835 274.769 560.145)" font-size="20" font-style="italic" fill="#000" stroke="#fff" stroke-width="0.2" vector-effect="non-scaling-stroke">ψ</text>
<text transform="matrix(0.561 0 0 0.573 286.932 554.9)" font-size="20" font-style="italic" fill="#000" stroke="#fff" stroke-width="0.2" vector-effect="non-scaling-stroke">K</text>
<text transform="matrix(0.688 0 0 0.616 285.272 564.864)" font-size="20" font-style="italic" fill="#000" stroke="#fff" stroke-width="0.2" vector-effect="non-scaling-stroke">BF</text>
</svg></body></html>
